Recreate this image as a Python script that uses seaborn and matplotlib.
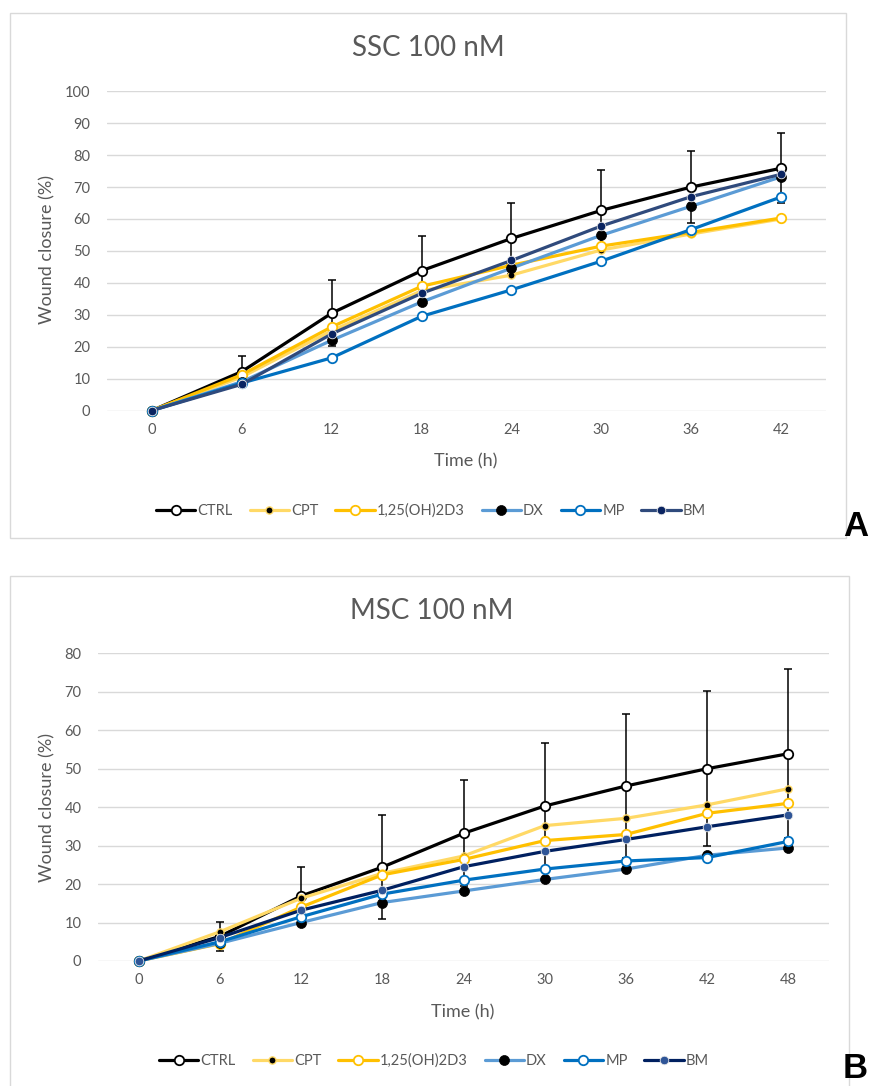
import numpy as np
import pandas as pd
import matplotlib
matplotlib.use("Agg")
import matplotlib.pyplot as plt
from matplotlib.patches import Rectangle
import seaborn as sns

# ---------------- data ----------------
series_names = ["CTRL", "CPT", "1,25(OH)2D3", "DX", "MP", "BM"]

time_a = [0, 6, 12, 18, 24, 30, 36, 42]
ctrl_a = [0, 12.2, 30.5, 43.8, 53.9, 62.7, 70.0, 75.9]
ctrl_a_sd = [0, 4.8, 10.3, 10.9, 11.1, 12.5, 11.3, 11.0]
cpt_a = [0, 10.5, 25.0, 37.5, 42.4, 50.3, 55.3, 60.0]
d3_a = [0, 11.2, 26.2, 38.9, 45.5, 51.5, 55.8, 60.3]
dx_a = [0, 9.0, 22.0, 34.0, 44.6, 54.9, 64.0, 73.2]
mp_a = [0, 8.6, 16.5, 29.5, 37.8, 46.8, 56.7, 66.9]
bm_a = [0, 8.2, 24.0, 36.7, 47.0, 57.8, 67.0, 74.0]

time_b = [0, 6, 12, 18, 24, 30, 36, 42, 48]
ctrl_b = [0, 6.4, 16.9, 24.4, 33.2, 40.3, 45.5, 50.0, 53.9]
ctrl_b_sd = [0, 3.7, 7.6, 13.5, 13.8, 16.3, 18.7, 20.2, 21.9]
cpt_b = [0, 7.6, 16.3, 22.8, 27.3, 35.2, 37.1, 40.6, 44.8]
d3_b = [0, 4.5, 14.0, 22.4, 26.4, 31.3, 32.9, 38.4, 41.0]
dx_b = [0, 4.6, 10.0, 15.2, 18.2, 21.2, 23.9, 27.5, 29.4]
mp_b = [0, 5.0, 11.5, 17.4, 21.0, 23.9, 26.0, 26.9, 31.1]
bm_b = [0, 6.1, 13.2, 18.4, 24.5, 28.5, 31.6, 34.9, 38.0]

yticks_a = list(range(0, 101, 10))
yticks_b = list(range(0, 81, 10))

# ---------------- style ----------------
sns.set_style("white")
plt.rcParams["font.family"] = ["Lato", "DejaVu Sans"]
GRAY = "#595959"
GRID = "#D9D9D9"

W, H = 869, 1086
fig = plt.figure(figsize=(W / 100, H / 100), dpi=100)


def fx(px):
    return px / W


def fy(py):
    return 1 - py / H


def styles(bm_line, bm_face):
    return {
        "CTRL": dict(color="#000000", mfc="white", mec="#000000", ms=6.8, mew=1.3),
        "CPT": dict(color="#FFD966", mfc="black", mec="#FFD966", ms=5.2, mew=1.0),
        "1,25(OH)2D3": dict(color="#FFC000", mfc="white", mec="#FFC000", ms=6.8, mew=1.3),
        "DX": dict(color="#5B9BD5", mfc="black", mec="black", ms=7.2, mew=0.5),
        "MP": dict(color="#0070C0", mfc="white", mec="#0070C0", ms=6.8, mew=1.3),
        "BM": dict(color=bm_line, mfc=bm_face, mec="#E8E8E8", ms=6.2, mew=0.6),
    }


def panel(box, axrect, times, data, sd, yticks, ymax, xmax, title, title_xy,
          ylabel_xy, xlabel_xy, legend_xy, letter_xy, letter, letter_va, st):
    # panel border
    x0, y0, x1, y1 = box
    fig.patches.append(Rectangle((fx(x0), fy(y1)), fx(x1) - fx(x0), fy(y0) - fy(y1),
                                 transform=fig.transFigure, fill=False,
                                 edgecolor=GRID, linewidth=1.0, zorder=0))
    l, t, r, b = axrect
    ax = fig.add_axes([fx(l), fy(b), fx(r) - fx(l), fy(t) - fy(b)])
    df = pd.DataFrame({"time": np.repeat([times], len(series_names), axis=0).ravel(),
                       "value": np.concatenate(data),
                       "series": np.repeat(series_names, len(times))})
    ax.errorbar(times, data[0], yerr=sd, fmt="none", ecolor="black",
                elinewidth=1.1, capsize=3.2, capthick=1.1, zorder=2.0, clip_on=False)
    handles = []
    for i, name in enumerate(series_names):
        s = st[name]
        sub = df[df["series"] == name]
        sns.lineplot(data=sub, x="time", y="value", ax=ax, color=s["color"],
                     linewidth=2.3, marker="o", markerfacecolor=s["mfc"],
                     markeredgecolor=s["mec"], markersize=s["ms"],
                     markeredgewidth=s["mew"], legend=False, zorder=3 + i,
                     clip_on=False)
        handles.append(ax.lines[-1])
    ax.set_xlim(-3, xmax + 3)
    ax.set_ylim(0, ymax)
    ax.set_xticks(times)
    ax.set_xticklabels([str(t) for t in times])
    ax.set_yticks(yticks)
    ax.set_yticklabels([str(v) for v in yticks])
    ax.tick_params(axis="both", length=0, labelsize=10.5, labelcolor=GRAY)
    ax.tick_params(axis="y", pad=12)
    ax.tick_params(axis="x", pad=9)
    for sp in ax.spines.values():
        sp.set_visible(False)
    ax.grid(axis="y", color=GRID, linewidth=1.0)
    ax.grid(axis="x", visible=False)
    ax.set_axisbelow(True)
    ax.set_xlabel("")
    ax.set_ylabel("")
    fig.text(fx(title_xy[0]), fy(title_xy[1]), title, ha="center", va="center",
             fontsize=20, color=GRAY)
    fig.text(fx(ylabel_xy[0]), fy(ylabel_xy[1]), "Wound closure (%)", ha="center",
             va="center", rotation=90, fontsize=13, color=GRAY)
    fig.text(fx(xlabel_xy[0]), fy(xlabel_xy[1]), "Time (h)", ha="center",
             va="center", fontsize=13, color=GRAY)
    fig.legend(handles, series_names, loc="center",
               bbox_to_anchor=(fx(legend_xy[0]), fy(legend_xy[1])), ncol=6,
               frameon=False, fontsize=10.5, labelcolor=GRAY, handlelength=2.7,
               handletextpad=0.15, columnspacing=1.15, numpoints=1)
    fig.text(fx(letter_xy[0]), fy(letter_xy[1]), letter, ha="right", va=letter_va,
             fontsize=25, fontweight="bold", color="black",
             family=["Liberation Sans", "DejaVu Sans"])
    return ax


panel(box=(10, 13, 846, 538), axrect=(107, 91.3, 826, 410.5), times=time_a,
      data=[ctrl_a, cpt_a, d3_a, dx_a, mp_a, bm_a], sd=ctrl_a_sd,
      yticks=yticks_a, ymax=100, xmax=42, title="SSC 100 nM", title_xy=(428, 48),
      ylabel_xy=(47, 250), xlabel_xy=(466, 461), legend_xy=(431, 511),
      letter_xy=(868, 543), letter="A", letter_va="bottom",
      st=styles("#2F4A7C", "#0A2461"))

panel(box=(10, 576, 849, 1095), axrect=(98, 653.3, 829, 961), times=time_b,
      data=[ctrl_b, cpt_b, d3_b, dx_b, mp_b, bm_b], sd=ctrl_b_sd,
      yticks=yticks_b, ymax=80, xmax=48, title="MSC 100 nM", title_xy=(432, 611),
      ylabel_xy=(47, 807), xlabel_xy=(463, 1012), legend_xy=(434, 1061),
      letter_xy=(868, 1085), letter="B", letter_va="bottom",
      st=styles("#002060", "#2F5597"))

fig.savefig("out.png", dpi=100)
